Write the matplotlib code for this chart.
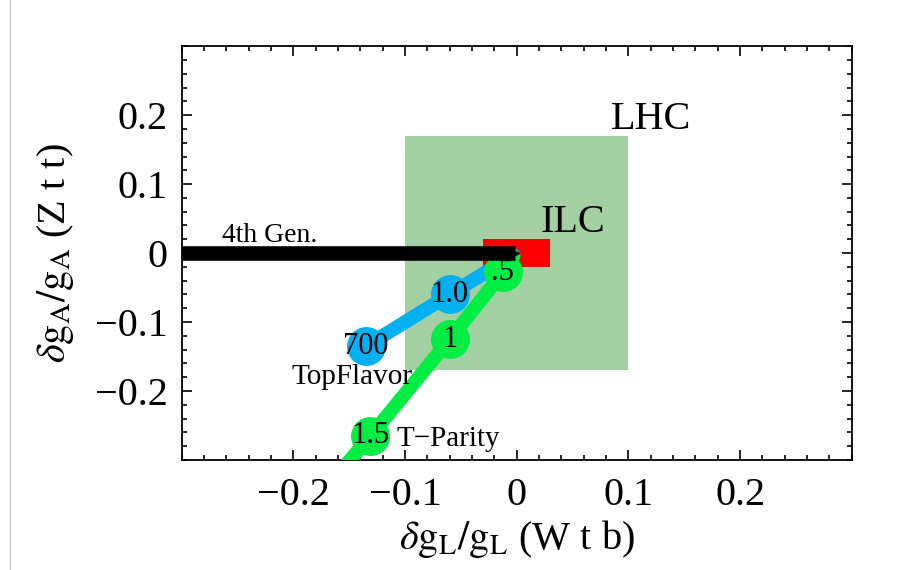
import matplotlib.pyplot as plt
from matplotlib.patches import Rectangle
from matplotlib.ticker import MultipleLocator

plt.rcParams['font.family'] = ['Liberation Serif', 'DejaVu Serif']
plt.rcParams['mathtext.fontset'] = 'stix'

# Data
lhc_box = [-0.1, -0.17, 0.1, 0.17]      # x0, y0, x1, y1
ilc_box = [-0.03, -0.02, 0.03, 0.02]

gen4_x = [-0.3, -0.002]
gen4_y = [0.0, 0.0]

topflavor_x = [-0.135, -0.06, -0.003]
topflavor_y = [-0.135, -0.06, -0.003]
topflavor_marks = ["700", "1.0"]

tparity_x = [-0.165, -0.131, -0.06, -0.0125, -0.003]
tparity_y = [-0.33, -0.265, -0.125, -0.028, -0.005]
tparity_pts_x = [-0.131, -0.06, -0.0125]
tparity_pts_y = [-0.265, -0.125, -0.028]
tparity_marks = ["1.5", "1", ".5"]

fig = plt.figure(figsize=(9.09, 5.70), dpi=100)
ax = fig.add_axes([0.200, 0.193, 0.737, 0.726])

# boxes
ax.add_patch(Rectangle((lhc_box[0], lhc_box[1]), lhc_box[2] - lhc_box[0], lhc_box[3] - lhc_box[1],
                       facecolor='#a3d0a3', edgecolor='none', zorder=1))
ax.add_patch(Rectangle((ilc_box[0], ilc_box[1]), ilc_box[2] - ilc_box[0], ilc_box[3] - ilc_box[1],
                       facecolor='#ff0000', edgecolor='none', zorder=2))

# TopFlavor
ax.plot(topflavor_x, topflavor_y, color='#00b0f0', lw=10, solid_capstyle='round', zorder=3)
ax.plot(topflavor_x[:2], topflavor_y[:2], 'o', color='#00b0f0', ms=27, zorder=3)
for x, y, s in zip(topflavor_x, topflavor_y, topflavor_marks):
    ax.text(x, y, s, fontsize=22, ha='center', va='center', zorder=6)

# T-Parity
ax.plot(tparity_x, tparity_y, color='#00ee44', lw=10, solid_capstyle='round', zorder=4)
ax.plot(tparity_pts_x, tparity_pts_y, 'o', color='#00ee44', ms=27, zorder=4)
for x, y, s in zip(tparity_pts_x, tparity_pts_y, tparity_marks):
    ax.text(x, y, s, fontsize=22, ha='center', va='center', zorder=6)

# 4th generation
ax.plot(gen4_x, gen4_y, color='black', lw=10.5, solid_capstyle='butt', zorder=5)
ax.plot([gen4_x[-1]], [gen4_y[-1]], marker='>', color='black', ms=6, zorder=5)

# labels
ax.text(-0.264, 0.025, "4th Gen.", fontsize=20, va='center', zorder=6)
ax.text(0.084, 0.193, "LHC", fontsize=29, va='center', zorder=6)
ax.text(0.021, 0.045, "ILC", fontsize=29, va='center', zorder=6)
ax.text(-0.148, -0.18, "TopFlavor", fontsize=21, ha='center', va='center', zorder=6)
ax.text(-0.108, -0.27, "T\u2212Parity", fontsize=21, va='center', zorder=6)

ax.set_xlim(-0.3, 0.3)
ax.set_ylim(-0.3, 0.3)
ax.set_xticks([-0.2, -0.1, 0, 0.1, 0.2])
ax.set_yticks([-0.2, -0.1, 0, 0.1, 0.2])
ax.set_xticklabels(["\u22120.2", "\u22120.1", "0", "0.1", "0.2"])
ax.set_yticklabels(["\u22120.2", "\u22120.1", "0", "0.1", "0.2"])
ax.xaxis.set_minor_locator(MultipleLocator(0.02))
ax.yaxis.set_minor_locator(MultipleLocator(0.02))
ax.tick_params(which='both', direction='in', top=True, right=True, width=1.2)
ax.tick_params(which='major', length=7, labelsize=29)
ax.tick_params(which='minor', length=3.5)
ax.tick_params(axis='x', which='major', pad=12)
ax.tick_params(axis='y', which='major', pad=10)
for sp in ax.spines.values():
    sp.set_linewidth(1.3)

ax.set_xlabel(r"$\delta \mathrm{g}_\mathrm{L}/\mathrm{g}_\mathrm{L}$ (W t b)", fontsize=29, labelpad=3)
ax.set_ylabel(r"$\delta \mathrm{g}_\mathrm{A}/\mathrm{g}_\mathrm{A}$ (Z t t)", fontsize=29, labelpad=14)

# thin border line at left of the screenshot
fig.add_artist(plt.Line2D([0.011, 0.011], [0.0, 1.0], color='#c8c8c8', lw=1))

fig.savefig('out.png', dpi=100)
